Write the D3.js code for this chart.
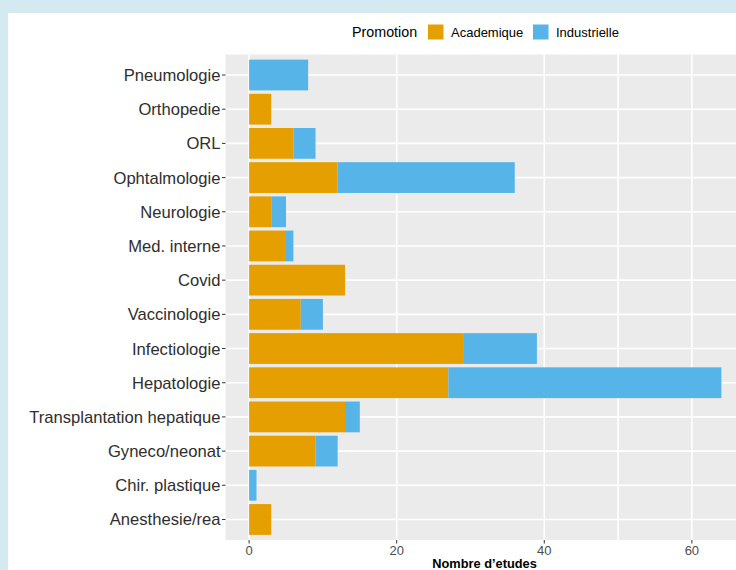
<!DOCTYPE html>
<html><head><meta charset="utf-8">
<script src="https://cdn.jsdelivr.net/npm/d3@7"></script>
<style>body{margin:0;padding:0;background:#d5e9f1;}svg{display:block;}</style>
</head><body>
<svg id="c" width="736" height="570"></svg>
<script>
const categories = ["Pneumologie","Orthopedie","ORL","Ophtalmologie","Neurologie","Med. interne","Covid","Vaccinologie","Infectiologie","Hepatologie","Transplantation hepatique","Gyneco/neonat","Chir. plastique","Anesthesie/rea"];
const academique = [0,3,6,12,3,5,13,7,29,27,13,9,0,3];
const industrielle = [8,0,3,24,2,1,0,3,10,37,2,3,1,0];
const seriesNames = ["Academique","Industrielle"];
const seriesColors = ["#E69F00","#56B4E9"];
const xTicks = [0,20,40,60];
const xGrid = [0,20,40,50,60];

(function(){
const svg = d3.select("#c");
svg.append("rect").attr("x",8).attr("y",13).attr("width",728).attr("height",557).attr("fill","#ffffff");

const pLeft = 225.5, pRight = 745, pTop = 54.5, pBottom = 540;
const totals = categories.map((c,i)=>academique[i]+industrielle[i]);
const maxT = d3.max(totals);
const x = d3.scaleLinear().domain([-maxT*0.05, maxT*1.05]).range([pLeft,pRight]);
const n = categories.length;
const yIdx = d3.scaleLinear().domain([0.4, n+0.6]).range([pTop,pBottom]);
const bw = yIdx(0.9)-yIdx(0);

const g = svg.append("g");
g.append("rect").attr("x",pLeft).attr("y",pTop).attr("width",pRight-pLeft).attr("height",pBottom-pTop).attr("fill","#EBEBEB");
g.selectAll("line.vg").data(xGrid).join("line").attr("class","vg")
  .attr("x1",d=>x(d)).attr("x2",d=>x(d)).attr("y1",pTop).attr("y2",pBottom)
  .attr("stroke","#fff").attr("stroke-width",1.6);
g.selectAll("line.hg").data(categories).join("line").attr("class","hg")
  .attr("x1",pLeft).attr("x2",pRight).attr("y1",(d,i)=>yIdx(i+1)).attr("y2",(d,i)=>yIdx(i+1))
  .attr("stroke","#fff").attr("stroke-width",1.6);

const stackData = categories.map((c,i)=>({cat:c,i:i,Academique:academique[i],Industrielle:industrielle[i]}));
const stack = d3.stack().keys(seriesNames)(stackData);
stack.forEach((layer,k)=>{
  g.selectAll("rect.s"+k).data(layer).join("rect").attr("class","s"+k)
    .attr("x",d=>x(d[0])).attr("width",d=>Math.max(0,x(d[1])-x(d[0])))
    .attr("y",d=>yIdx(d.data.i+1)-bw/2).attr("height",bw)
    .attr("fill",seriesColors[k]);
});

const ya = svg.append("g");
categories.forEach((c,i)=>{
  const yy = yIdx(i+1);
  ya.append("line").attr("x1",pLeft-3.5).attr("x2",pLeft).attr("y1",yy).attr("y2",yy).attr("stroke","#333").attr("stroke-width",1);
  ya.append("text").attr("x",pLeft-5).attr("y",yy).attr("dy","0.36em").attr("text-anchor","end")
    .attr("font-family","Liberation Sans, Arial, sans-serif").attr("font-size",16.6).attr("fill","#2e2e2e").text(c);
});
const xa = svg.append("g");
xTicks.forEach(t=>{
  xa.append("line").attr("x1",x(t)).attr("x2",x(t)).attr("y1",pBottom).attr("y2",pBottom+3.5).attr("stroke","#333").attr("stroke-width",1);
  xa.append("text").attr("x",x(t)).attr("y",pBottom+15).attr("text-anchor","middle")
    .attr("font-family","Liberation Sans, Arial, sans-serif").attr("font-size",13).attr("fill","#4d4d4d").text(t);
});
svg.append("text").attr("x",484.5).attr("y",568).attr("text-anchor","middle")
  .attr("font-family","Liberation Sans, Arial, sans-serif").attr("font-size",12.8).attr("font-weight","bold").attr("fill","#000").text("Nombre d\u2019etudes");

const lg = svg.append("g").attr("font-family","Liberation Sans, Arial, sans-serif");
lg.append("text").attr("x",352).attr("y",32).attr("dy","0.36em").attr("font-size",14.3).attr("fill","#000").text("Promotion");
const keyX = [428,533];
seriesNames.forEach((s,k)=>{
  lg.append("rect").attr("x",keyX[k]).attr("y",24.5).attr("width",15.5).attr("height",15).attr("fill",seriesColors[k]);
  lg.append("text").attr("x",keyX[k]+23).attr("y",32).attr("dy","0.36em").attr("font-size",13).attr("fill","#000").text(s);
});
})();
</script>
</body></html>
